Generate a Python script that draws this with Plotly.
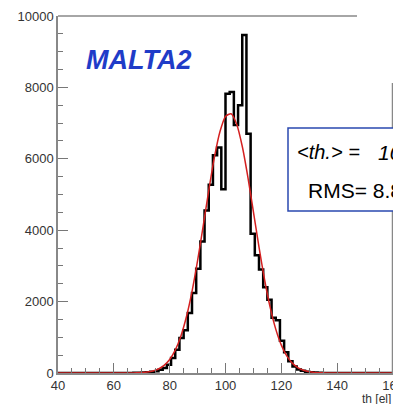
import plotly.graph_objects as go

# Histogram: 80 bins of width 1.5 from 40 to 160
bin_edges = [40 + 1.5 * k for k in range(81)]
counts = [0] * 18 + [
    5, 6, 12, 20, 35, 50, 90, 140, 230, 420,          # bins 18-27
    650, 980, 1200, 1680, 2240, 2920, 3680, 4550, 5270, 6100,  # 28-37
    6320, 5150, 7820, 7870, 6950, 7500, 9470, 6700, 3900, 3300,  # 38-47
    2900, 2400, 2050, 1550, 1480, 900, 580, 330, 180, 100,       # 48-57
    60, 35, 20, 12, 6,                                          # 58-62
] + [0] * 17

# Fit curve points
fit_x = [40, 50, 60, 66, 68, 70, 72, 74, 76, 78, 80, 82, 84, 86, 88, 90, 92, 94, 96, 98,
         100, 102, 104, 106, 108, 110, 112, 114, 116, 118, 120, 122, 124, 126, 128, 130,
         132, 134, 136, 140, 150, 160]
fit_y = [0, 0, 0, 1, 5, 12, 27, 57, 113, 212, 378, 641, 1031, 1575, 2282, 3146, 4115, 5110,
         6030, 6757, 7188, 7263, 6969, 6351, 5495, 4515, 3525, 2612, 1838, 1229, 780, 470,
         269, 146, 75, 37, 17, 8, 3, 0, 0, 0]

label_text = "MALTA2"
stat_mean_label = "<i>&lt;th.&gt; =</i>"
stat_mean_value = "<i>101.4</i>"
stat_rms = "RMS= 8.8"
x_title = "th [el]"

fig = go.Figure()
fig.add_trace(go.Scatter(
    x=bin_edges, y=counts + [counts[-1]], mode="lines",
    line=dict(color="black", width=2.5, shape="hv"), hoverinfo="skip"))
fig.add_trace(go.Scatter(
    x=fit_x, y=fit_y, mode="lines",
    line=dict(color="#d42020", width=1.5, shape="spline", smoothing=0.6), hoverinfo="skip"))

axis_common = dict(
    showgrid=False, zeroline=False, showline=True, linecolor="#888", linewidth=1.5,
    ticks="inside", ticklen=10, tickwidth=1, tickcolor="#777", automargin=False,
    ticklabeloverflow="allow",
    tickfont=dict(family="Liberation Sans, Arial", size=13, color="#333"),
)
fig.update_xaxes(range=[40, 160], dtick=20, tick0=40,
                 minor=dict(dtick=5, ticks="inside", ticklen=5, tickcolor="#777"),
                 **axis_common)
fig.update_yaxes(range=[0, 10000], dtick=2000, tick0=0, tickformat="d",
                 minor=dict(dtick=500, ticks="inside", ticklen=5, tickcolor="#777"),
                 **axis_common)

def px(xp):
    return (xp - 58) / 335

def py(yp):
    return (373 - yp) / 357

# The page body adds an 8px offset, so the figure is sized to fill the rest of the window
fig.update_layout(
    width=393, height=396,
    margin=dict(l=50, r=8, t=8, b=31),
    paper_bgcolor="white", plot_bgcolor="white",
    showlegend=False,
    shapes=[
        dict(type="line", xref="paper", yref="paper", x0=0, x1=px(357), y0=1, y1=1,
             line=dict(color="#888", width=1.5)),
        dict(type="line", xref="paper", yref="paper", x0=px(392.5), x1=px(392.5), y0=0, y1=py(83),
             line=dict(color="#888", width=1.5)),
        dict(type="rect", xref="paper", yref="paper", x0=px(288), x1=1.2, y0=py(211), y1=py(128),
             line=dict(color="#2a48b0", width=1.5), fillcolor="white"),
    ],
    annotations=[
        dict(text="<b><i>" + label_text + "</i></b>", xref="paper", yref="paper",
             x=px(84), y=py(60), xanchor="left", yanchor="middle", showarrow=False,
             font=dict(family="Liberation Sans, Arial", size=27, color="#1f3cc8")),
        dict(text=stat_mean_label, xref="paper", yref="paper",
             x=px(295), y=py(152), xanchor="left", yanchor="middle", showarrow=False,
             font=dict(family="Liberation Sans, Arial", size=20, color="black")),
        dict(text=stat_mean_value, xref="paper", yref="paper",
             x=px(376), y=py(152), xanchor="left", yanchor="middle", showarrow=False,
             font=dict(family="Liberation Sans, Arial", size=21, color="black")),
        dict(text=stat_rms, xref="paper", yref="paper",
             x=px(306), y=py(190), xanchor="left", yanchor="middle", showarrow=False,
             font=dict(family="Liberation Sans, Arial", size=21, color="black")),
        dict(text=x_title, xref="paper", yref="paper",
             x=1, y=py(399), xanchor="right", yanchor="middle", showarrow=False,
             font=dict(family="Liberation Sans, Arial", size=12, color="#333")),
    ],
)

fig.write_html("out.html")
